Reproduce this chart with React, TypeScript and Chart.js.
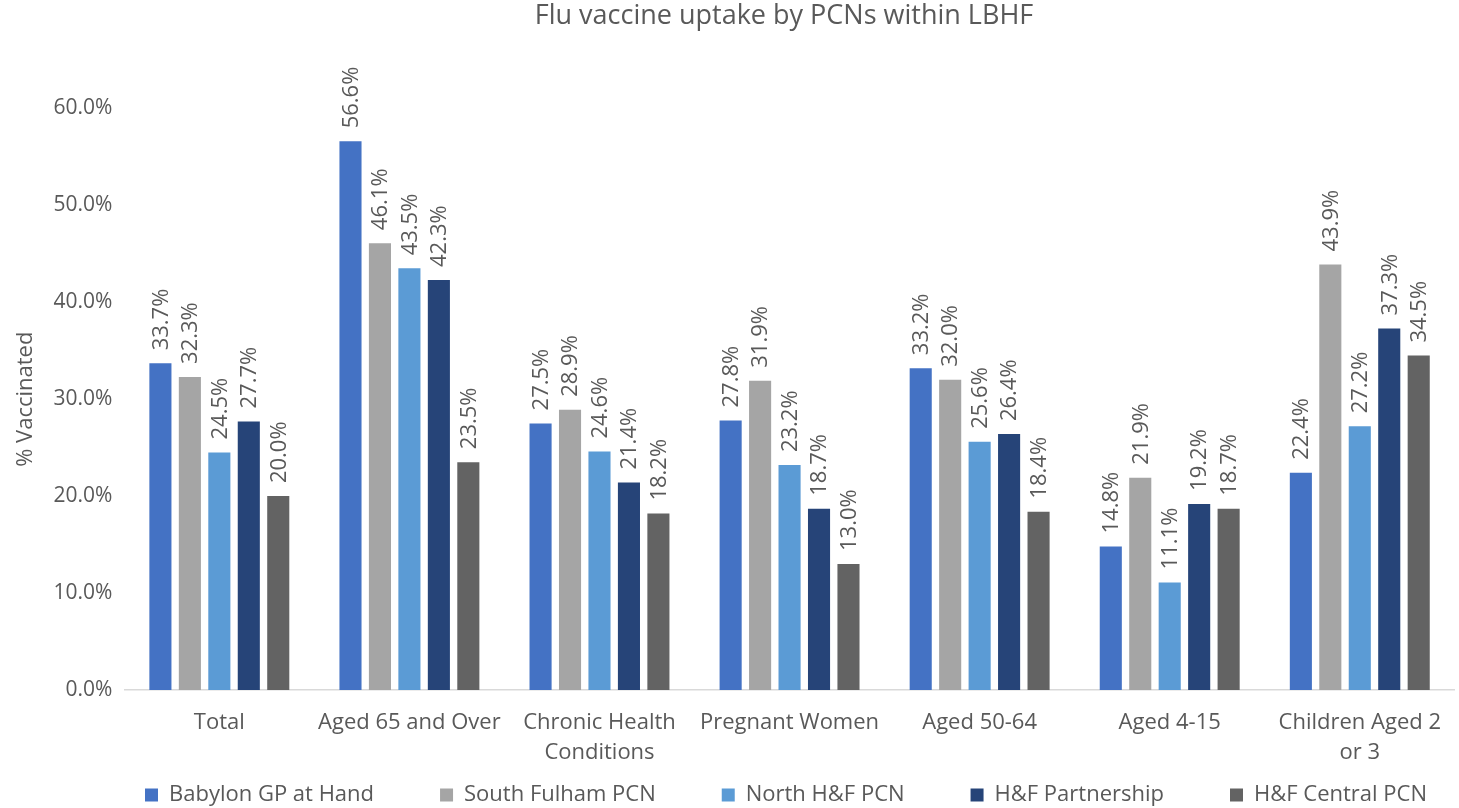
import React, { useEffect, useRef } from "react";
import { Chart, registerables } from "chart.js";

Chart.register(...registerables);

const categories: (string | string[])[] = [
  "Total",
  "Aged 65 and Over",
  ["Chronic Health", "Conditions"],
  "Pregnant Women",
  "Aged 50-64",
  "Aged 4-15",
  ["Children Aged 2", "or 3"],
];

const seriesNames = [
  "Babylon GP at Hand",
  "South Fulham PCN",
  "North H&F PCN",
  "H&F Partnership",
  "H&F Central PCN",
];

const babylon = [33.7, 56.6, 27.5, 27.8, 33.2, 14.8, 22.4];
const southFulham = [32.3, 46.1, 28.9, 31.9, 32.0, 21.9, 43.9];
const northHF = [24.5, 43.5, 24.6, 23.2, 25.6, 11.1, 27.2];
const hfPartnership = [27.7, 42.3, 21.4, 18.7, 26.4, 19.2, 37.3];
const hfCentral = [20.0, 23.5, 18.2, 13.0, 18.4, 18.7, 34.5];

const seriesColors = ["#4472C4", "#A5A5A5", "#5B9BD5", "#264478", "#636363"];

const yTicks = [0, 10, 20, 30, 40, 50, 60];

const FONT = "'Open Sans', sans-serif";
const TEXT = "#595959";
const LEGEND_PAD = 66;
const LEGEND_FONT = 22;
const LEGEND_RESERVED = 22;

const dataLabelPlugin = {
  id: "dataLabels",
  afterDatasetsDraw(chart: any) {
    const ctx = chart.ctx;
    ctx.save();
    ctx.font = `22px ${FONT}`;
    ctx.fillStyle = TEXT;
    ctx.textAlign = "left";
    ctx.textBaseline = "middle";
    chart.data.datasets.forEach((ds: any, di: number) => {
      const meta = chart.getDatasetMeta(di);
      meta.data.forEach((bar: any, i: number) => {
        const v = ds.data[i];
        ctx.save();
        ctx.translate(bar.x + 1, bar.y - 13);
        ctx.rotate(-Math.PI / 2);
        ctx.fillText(v.toFixed(1) + "%", 0, 0);
        ctx.restore();
      });
    });
    ctx.restore();
  },
};

// Keep the legend compact vertically while allowing wide horizontal gaps,
// and centre title/legend over the plot region like the original.
const layoutTweaks = {
  id: "layoutTweaks",
  beforeLayout(chart: any) {
    const lg = chart.legend;
    if (lg && !lg._patched) {
      const orig = lg.fit;
      lg.fit = function () {
        orig.call(this);
        this.height = LEGEND_RESERVED;
      };
      lg._patched = true;
    }
  },
  afterLayout(chart: any) {
    const shift = 52;
    const lg = chart.legend;
    if (lg) {
      lg.left += shift;
      lg.right += shift;
      lg.top = 795 - LEGEND_PAD - LEGEND_FONT / 2;
      lg.bottom = chart.height;
    }
    const t = chart.titleBlock;
    if (t) {
      t.left += shift - 2;
      t.right += shift - 2;
    }
  },
};

export default function App() {
  const ref = useRef<HTMLCanvasElement | null>(null);
  useEffect(() => {
    document.body.style.margin = "0";
    const values = [babylon, southFulham, northHF, hfPartnership, hfCentral];
    const chart = new Chart(ref.current as HTMLCanvasElement, {
      type: "bar",
      data: {
        labels: categories,
        datasets: seriesNames.map((name, i) => ({
          label: name,
          data: values[i],
          backgroundColor: seriesColors[i],
          categoryPercentage: 0.775,
          barPercentage: 0.75,
        })),
      },
      options: {
        responsive: false,
        animation: false,
        layout: { padding: { left: 9, right: 0, top: 0, bottom: 0 } },
        plugins: {
          title: {
            display: true,
            text: "Flu vaccine uptake by PCNs within LBHF",
            color: TEXT,
            font: { family: FONT, size: 27, weight: "normal", lineHeight: 1.2 },
            padding: { top: 0, bottom: 76 },
          },
          legend: {
            position: "bottom",
            labels: {
              color: TEXT,
              font: { family: FONT, size: LEGEND_FONT },
              boxWidth: 13,
              boxHeight: 13,
              padding: LEGEND_PAD,
            },
          },
          tooltip: { enabled: false },
        },
        scales: {
          x: {
            grid: { display: false, drawTicks: false },
            border: { display: true, color: "#D9D9D9", width: 1.5 },
            ticks: {
              color: TEXT,
              font: { family: FONT, size: 22, lineHeight: 1.364 },
              padding: 18,
              maxRotation: 0,
              autoSkip: false,
            },
          },
          y: {
            min: 0,
            max: 60,
            grid: { display: false, drawTicks: false },
            border: { display: false },
            afterBuildTicks: (axis: any) => {
              axis.ticks = yTicks.map((v) => ({ value: v }));
            },
            ticks: {
              color: TEXT,
              font: { family: FONT, size: 21 },
              padding: 12,
              callback: (v: any) => Number(v).toFixed(1) + "%",
            },
            title: {
              display: true,
              text: "% Vaccinated",
              color: TEXT,
              font: { family: FONT, size: 22, lineHeight: 1.2 },
              padding: { top: 4, bottom: 2 },
            },
          },
        },
      },
      plugins: [layoutTweaks, dataLabelPlugin],
    });
    return () => chart.destroy();
  }, []);
  return (
    <div style={{ position: "absolute", left: 0, top: 0, width: 1459, height: 808 }}>
      <canvas ref={ref} width={1459} height={808} style={{ width: 1459, height: 808 }} />
    </div>
  );
}
